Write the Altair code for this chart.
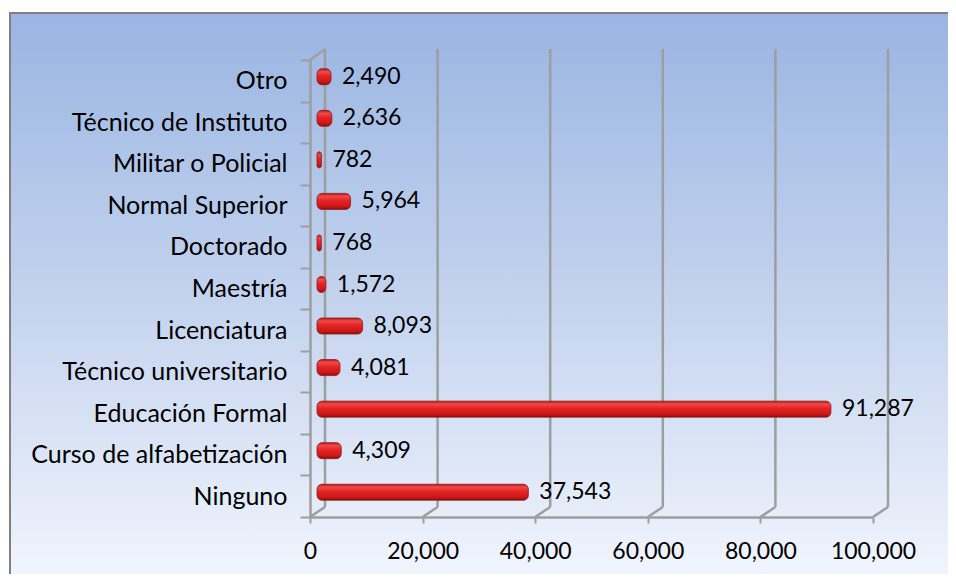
import altair as alt
import pandas as pd

categories = ["Otro", "Técnico de Instituto", "Militar o Policial", "Normal Superior",
              "Doctorado", "Maestría", "Licenciatura", "Técnico universitario",
              "Educación Formal", "Curso de alfabetización", "Ninguno"]
values = [2490, 2636, 782, 5964, 768, 1572, 8093, 4081, 91287, 4309, 37543]
x_ticks = [0, 20000, 40000, 60000, 80000, 100000]

df = pd.DataFrame({"cat": categories, "val": values})
ticks_df = pd.DataFrame({"t": x_ticks})

FONT = "Lato"
FS_CAT = 25
FS_NUM = 23
GRID = "#9e9e9e"
W, H = 563, 457
DX, DY = 15, -11

xscale = alt.Scale(domain=[0, 100000], nice=False, zero=True)
yscale = alt.Scale(domain=categories, paddingInner=0, paddingOuter=0)

bg = alt.Chart(pd.DataFrame({"a": [0]})).mark_rect(
    fill=alt.LinearGradient(
        gradient="linear",
        stops=[alt.GradientStop(offset=0, color="#9ab5e2"),
               alt.GradientStop(offset=0.5, color="#c6d5ef"),
               alt.GradientStop(offset=1, color="#f8faff")],
        x1=0, x2=0, y1=0, y2=1),
    stroke="#808080", strokeWidth=2
).encode(x=alt.value(-300), x2=alt.value(700), y=alt.value(-47), y2=alt.value(560))

back_grid = alt.Chart(ticks_df).mark_rule(color=GRID, strokeWidth=2.5, xOffset=DX, x2Offset=DX).encode(
    x=alt.X("t:Q", scale=xscale),
    y=alt.value(DY),
    y2=alt.value(H + DY + 1),
)

floor_slants = alt.Chart(ticks_df).mark_rule(color=GRID, strokeWidth=2.5, x2Offset=DX).encode(
    x=alt.X("t:Q", scale=xscale),
    x2=alt.X2("t:Q"),
    y=alt.value(H),
    y2=alt.value(H + DY + 1),
)

top_slant = alt.Chart(pd.DataFrame({"t": [0]})).mark_rule(color=GRID, strokeWidth=2.5, x2Offset=DX).encode(
    x=alt.X("t:Q", scale=xscale),
    x2=alt.X2("t:Q"),
    y=alt.value(0),
    y2=alt.value(DY),
)

bars = alt.Chart(df).mark_bar(
    height=16, xOffset=7, x2Offset=7, yOffset=-4, cornerRadius=5,
    fill=alt.LinearGradient(
        gradient="linear",
        stops=[alt.GradientStop(offset=0, color="#b81414"),
               alt.GradientStop(offset=0.18, color="#f04a4a"),
               alt.GradientStop(offset=0.45, color="#e42424"),
               alt.GradientStop(offset=0.8, color="#cf1717"),
               alt.GradientStop(offset=1, color="#8a0e0e")],
        x1=0, x2=0, y1=0, y2=1),
    stroke="#8a1a1a", strokeWidth=0.8
).encode(
    x=alt.X("val:Q", scale=xscale,
            axis=alt.Axis(values=x_ticks, format=",.0f", title=None, grid=False,
                          labelFont=FONT, labelFontSize=FS_NUM, labelColor="black",
                          labelOverlap=False, labelFlush=False,
                          tickSize=6, tickColor=GRID, tickWidth=2,
                          domainColor=GRID, domainWidth=2.5, labelPadding=17, zindex=1)),
    x2=alt.datum(0),
    y=alt.Y("cat:N", scale=yscale, sort=categories,
            axis=alt.Axis(title=None, grid=False, tickBand="extent",
                          labelFont=FONT, labelFontSize=FS_CAT, labelColor="black",
                          labelLimit=500, labelOverlap=False,
                          tickSize=10, tickColor=GRID, tickWidth=2,
                          domainColor=GRID, domainWidth=2.5, labelPadding=13, zindex=1)),
)

labels = alt.Chart(df).mark_text(
    align="left", baseline="middle", dx=18, dy=-4, font=FONT, fontSize=FS_NUM, color="black"
).encode(
    x=alt.X("val:Q", scale=xscale),
    y=alt.Y("cat:N", scale=yscale, sort=categories),
    text=alt.Text("val:Q", format=",.0f"),
)

chart = alt.layer(bg, back_grid, floor_slants, top_slant, bars, labels).properties(
    width=W, height=H,
    autosize=alt.AutoSizeParams(type="none"),
    padding={"left": 302, "top": 52, "right": 75, "bottom": 57},
    background="white",
).configure_view(stroke=None)

chart.save("out.html", embed_options={"renderer": "svg", "actions": False})
